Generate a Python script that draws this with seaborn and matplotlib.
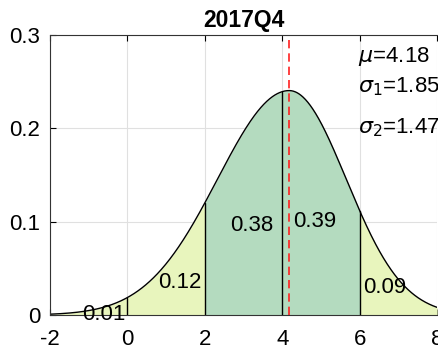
import numpy as np
import pandas as pd
import matplotlib
matplotlib.use("Agg")
import matplotlib.pyplot as plt
import seaborn as sns

title = "2017Q4"
mode = 4.18
sigma1 = 1.85
sigma2 = 1.47
edges = [-2, 0, 2, 4, 6, 8]
probs = ["0.01", "0.12", "0.38", "0.39", "0.09"]
region_colors = ["#e8f5bd", "#e8f5bd", "#b4dbbf", "#b4dbbf", "#e8f5bd"]
label_x = [-0.6, 1.35, 3.2, 4.85, 6.65]
label_y = [0.001, 0.035, 0.096, 0.1, 0.029]
xticks = [-2, 0, 2, 4, 6, 8]
yticks = [0, 0.1, 0.2, 0.3]

def split_normal(x):
    a = np.sqrt(2 / np.pi) / (sigma1 + sigma2)
    s = np.where(x < mode, sigma1, sigma2)
    return a * np.exp(-(x - mode) ** 2 / (2 * s ** 2))

sns.set_theme(style="white")
plt.rcParams['font.family'] = ['Liberation Sans', 'DejaVu Sans']
plt.rcParams['mathtext.fontset'] = 'dejavusans'

fig = plt.figure(figsize=(4.38, 3.52), dpi=100)
ax = fig.add_axes([0.114, 0.105, 0.884, 0.796])

xs = np.linspace(edges[0], edges[-1], 801)
df = pd.DataFrame({"x": xs, "y": split_normal(xs)})

for i in range(len(edges) - 1):
    m = (df.x >= edges[i]) & (df.x <= edges[i + 1])
    ax.fill_between(df.x[m], 0, df.y[m], color=region_colors[i], lw=0)
for e in edges[1:-1]:
    ax.plot([e, e], [0, split_normal(np.array(e))], color="black", lw=1)

sns.lineplot(data=df, x="x", y="y", ax=ax, color="black", lw=1)
ax.axvline(mode, color="#ff2020", ls=(0, (5, 3)), lw=1.2)

fs = 16
for t, lx, ly in zip(probs, label_x, label_y):
    ax.text(lx, ly, t, ha="center", va="center", fontsize=fs, color="black")

ax.text(5.95, 0.277, r"$\mu$=4.18", fontsize=fs, va="center", color="black")
ax.text(5.95, 0.245, r"$\sigma_1$=1.85", fontsize=fs, va="center", color="black")
ax.text(5.95, 0.201, r"$\sigma_2$=1.47", fontsize=fs, va="center", color="black")

ax.set_xlim(-2, 8)
ax.set_ylim(0, 0.3)
ax.set_xticks(xticks)
ax.set_yticks(yticks)
ax.set_xticklabels([str(t) for t in xticks])
ax.set_yticklabels(["0", "0.1", "0.2", "0.3"])
ax.grid(True, color="#e0e0e0", lw=0.8)
ax.set_axisbelow(True)
ax.set_xlabel("")
ax.set_ylabel("")
ax.tick_params(direction="in", length=4, width=0.8, labelsize=fs, colors="black",
               top=True, bottom=True, left=True, right=False)
ax.tick_params(axis="x", pad=10)
ax.tick_params(axis="y", pad=7)
for s in ["left", "bottom", "top"]:
    ax.spines[s].set_color("#333333")
    ax.spines[s].set_linewidth(0.8)
ax.spines["right"].set_visible(False)
ax.set_title(title, fontsize=16.5, fontweight="bold", pad=6, color="black")

fig.savefig("out.png", dpi=100)
